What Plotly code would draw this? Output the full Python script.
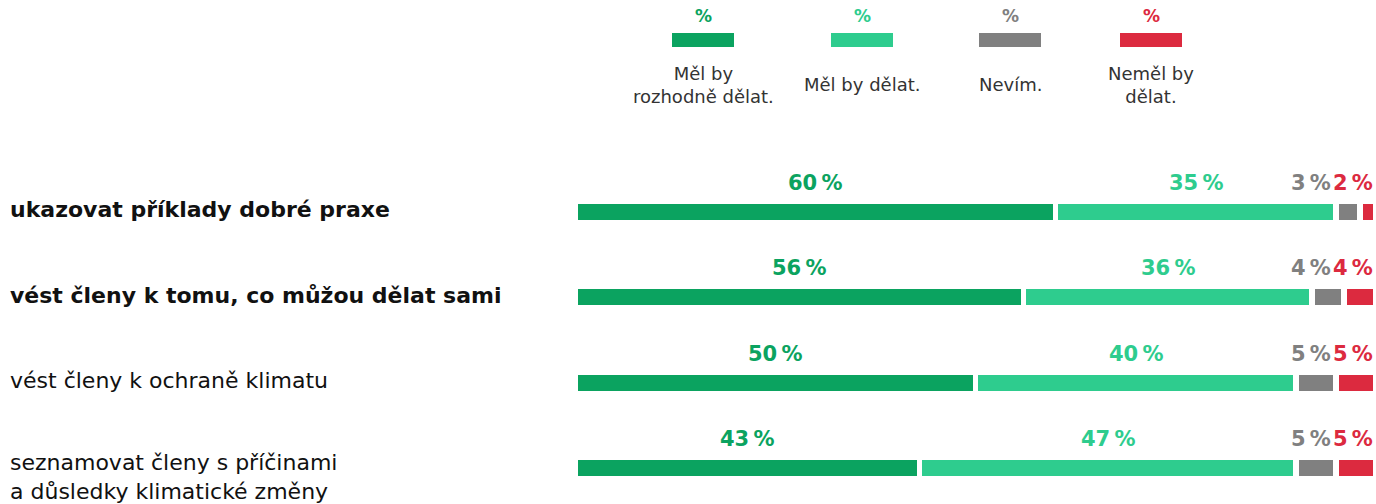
import plotly.graph_objects as go

# ---- data ----
categories = [
    "ukazovat příklady dobré praxe",
    "vést členy k tomu, co můžou dělat sami",
    "vést členy k ochraně klimatu",
    "seznamovat členy s příčinami<br>a důsledky klimatické změny",
]
category_bold = [True, True, False, False]
series_names = ["Měl by rozhodně dělat.", "Měl by dělat.", "Nevím.", "Neměl by dělat."]
legend_labels = ["Měl by<br>rozhodně dělat.", "Měl by dělat.", "Nevím.", "Neměl by<br>dělat."]
definitely = [60, 56, 50, 43]
should = [35, 36, 40, 47]
dont_know = [3, 4, 5, 5]
should_not = [2, 4, 5, 5]

colors = ["#0BA360", "#2ECC8E", "#808080", "#DC2A3F"]
FONT = "DejaVu Sans"

W, H = 1376, 504
ML, MR, MT, MB = 575, 0, 150, 0
PW, PH = W - ML - MR, H - MT - MB


def pxx(px):
    return (px - ML) / PW


def pyy(py):
    return (H - MB - py) / PH


series = [definitely, should, dont_know, should_not]
rows = list(range(len(categories)))

fig = go.Figure()
for name, vals, col in zip(series_names, series, colors):
    fig.add_trace(go.Bar(
        y=rows, x=vals, orientation="h", name=name,
        marker=dict(color=col, line=dict(color="white", width=5.5)),
        width=0.25, hoverinfo="skip", showlegend=False,
    ))

ann = []
shapes = []
# category labels
for i, cat in enumerate(categories):
    txt = f"<b>{cat}</b>" if category_bold[i] else cat
    multi = "<br>" in cat
    ann.append(dict(
        x=pxx(8), xref="paper", y=i, yref="y", text=txt, showarrow=False,
        xanchor="left", yanchor="middle", align="left",
        yshift=-9 if multi else 2,
        font=dict(family=FONT, size=22, color="#111111"),
    ))

# value labels
for i in rows:
    d, s, n, r = definitely[i], should[i], dont_know[i], should_not[i]
    ann.append(dict(x=d / 2, y=i, text=f"<b>{d}\u2009%</b>", showarrow=False,
                    xanchor="center", yshift=29,
                    font=dict(family=FONT, size=21, color=colors[0])))
    ann.append(dict(x=d + s / 2, y=i, text=f"<b>{s}\u2009%</b>", showarrow=False,
                    xanchor="center", yshift=29,
                    font=dict(family=FONT, size=21, color=colors[1])))
    ann.append(dict(x=100, y=i, text=f"<b>{n}\u2009%</b>", showarrow=False,
                    xanchor="right", xshift=-43, yshift=29,
                    font=dict(family=FONT, size=21, color=colors[2])))
    ann.append(dict(x=100, y=i, text=f"<b>{r}\u2009%</b>", showarrow=False,
                    xanchor="right", xshift=-1, yshift=29,
                    font=dict(family=FONT, size=21, color=colors[3])))

# legend
leg_cx = [703, 862, 1010, 1151]
for cx, lab, col in zip(leg_cx, legend_labels, colors):
    ann.append(dict(x=pxx(cx), y=pyy(16), xref="paper", yref="paper", text="<b>%</b>",
                    showarrow=False, xanchor="center", yanchor="middle",
                    font=dict(family=FONT, size=17, color=col)))
    shapes.append(dict(type="rect", xref="paper", yref="paper",
                       x0=pxx(cx - 31), x1=pxx(cx + 31), y0=pyy(47), y1=pyy(33),
                       fillcolor=col, line=dict(width=0)))
    ann.append(dict(x=pxx(cx), y=pyy(85), xref="paper", yref="paper", text=lab,
                    showarrow=False, xanchor="center", yanchor="middle", align="center",
                    font=dict(family=FONT, size=18, color="#333333")))

fig.update_layout(
    width=W, height=H, barmode="stack", barcornerradius=3,
    margin=dict(l=ML, r=MR, t=MT, b=MB, pad=0),
    plot_bgcolor="white", paper_bgcolor="white",
    xaxis=dict(range=[0, 100], visible=False, fixedrange=True),
    yaxis=dict(range=[3 + (H - 468) / 85.5, -(212 - MT) / 85.5], visible=False, fixedrange=True),
    annotations=ann, shapes=shapes, showlegend=False,
)

fig.write_html(
    "out.html",
    config={"displayModeBar": False},
    post_script="document.body.style.margin='0';document.body.style.overflow='hidden';",
)
